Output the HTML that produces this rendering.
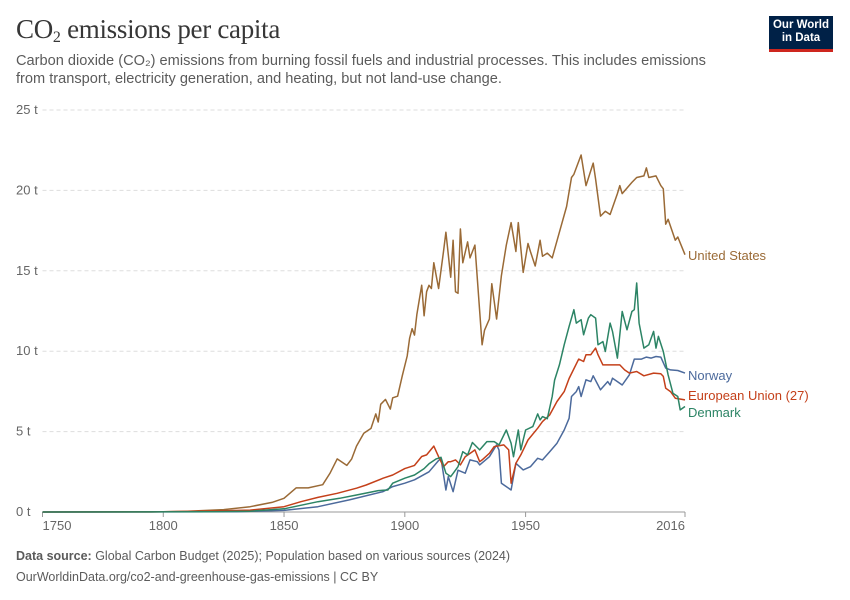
<!DOCTYPE html>
<html><head><meta charset="utf-8"><style>
body{margin:0;background:#fff;width:850px;height:600px;overflow:hidden;font-family:"Liberation Sans",sans-serif;}
#title{position:absolute;left:16px;top:14px;font-family:"Liberation Serif",serif;font-size:27px;color:#373737;letter-spacing:-0.3px}
#sub{position:absolute;left:16px;top:52px;width:740px;font-size:14.6px;line-height:18px;color:#5b5b5b;white-space:nowrap}
#logo{position:absolute;left:769px;top:16px;width:64px;background:#002147;border-bottom:3px solid #ce261e;color:#fff;font-size:11.5px;font-weight:bold;line-height:13px;text-align:center;padding-top:3px;box-sizing:content-box;height:30px}
.foot{position:absolute;left:16px;font-size:12.5px;color:#5b5b5b}
</style></head><body>
<div id="title">CO<sub style="font-size:16px;vertical-align:-4px">2</sub> emissions per capita</div>
<div id="sub">Carbon dioxide (CO₂) emissions from burning fossil fuels and industrial processes. This includes emissions<br>from transport, electricity generation, and heating, but not land-use change.</div>
<div id="logo">Our World<br>in Data</div>
<svg id="chart" width="850" height="600" style="position:absolute;left:0;top:0"></svg>
<div class="foot" style="top:549px"><b>Data source:</b> Global Carbon Budget (2025); Population based on various sources (2024)</div>
<div class="foot" style="top:570px">OurWorldinData.org/co2-and-greenhouse-gas-emissions | CC BY</div>
<script>
const yTicks=[0,5,10,15,20,25];
const xTicks=[1750,1800,1850,1900,1950,2016];
const seriesNames=["United States","Norway","European Union (27)","Denmark"];
const usYears=[1750,1795,1810,1825,1836,1845,1850,1855,1860,1866,1869,1872,1876,1878,1880,1883,1886,1888,1889,1890,1892,1894,1895,1897,1899,1901,1902,1903,1904,1905,1907,1908,1909,1910,1911,1912,1914,1916,1917,1919,1920,1921,1922,1923,1924,1926,1927,1929,1932,1933,1935,1936,1938,1940,1942,1944,1946,1947,1949,1951,1952,1954,1956,1957,1959,1961,1964,1967,1969,1970,1973,1975,1978,1979,1981,1983,1985,1988,1989,1990,1994,1996,1999,2000,2001,2004,2006,2007,2008,2009,2012,2013,2016];
const usVals=[0,0,0.05,0.15,0.33,0.6,0.85,1.5,1.5,1.7,2.4,3.3,2.9,3.3,4.1,4.9,5.2,6.1,5.6,6.7,7.0,6.4,7.1,7.2,8.5,9.7,10.8,11.4,11.0,12.3,14.1,12.2,13.7,14.1,13.9,15.5,13.9,16.2,17.4,14.6,16.9,13.7,13.6,17.6,15.5,16.8,15.8,16.6,10.4,11.3,12.0,14.2,12.0,14.7,16.6,18.0,16.2,18.0,14.9,16.7,16.2,15.3,16.9,15.9,16.1,15.8,17.4,19.0,20.8,21.0,22.2,20.3,21.7,20.7,18.4,18.7,18.5,19.8,20.3,19.8,20.5,20.8,20.9,21.4,20.8,20.9,20.3,20.1,17.9,18.2,16.9,17.1,16.0];
const euYears=[1750,1800,1820,1836,1850,1857,1864,1872,1880,1884,1891,1895,1900,1904,1907,1909,1912,1914,1916,1918,1919,1921,1923,1925,1928,1929,1931,1932,1935,1937,1941,1943,1944,1946,1948,1951,1955,1957,1960,1963,1966,1968,1972,1974,1975,1977,1979,1980,1982,1985,1989,1991,1993,1996,1999,2003,2006,2007,2008,2010,2012,2016];
const euVals=[0,0.02,0.06,0.12,0.33,0.64,0.91,1.16,1.48,1.68,2.1,2.3,2.7,2.9,3.45,3.55,4.1,3.44,2.82,3.13,3.13,3.24,2.93,3.44,3.75,3.86,3.13,3.24,3.65,4.07,4.17,3.86,1.79,3.03,3.55,4.48,5.21,5.62,6.04,6.87,7.49,8.3,9.51,9.36,9.78,9.78,10.19,9.78,9.15,9.15,9.15,8.84,8.64,8.74,8.47,8.64,8.6,8.43,7.7,7.49,7.08,6.97];
const noYears=[1750,1830,1850,1864,1877,1891,1895,1900,1904,1910,1914,1915,1917,1918,1920,1922,1925,1927,1930,1931,1935,1938,1939,1940,1942,1944,1946,1949,1952,1955,1957,1960,1963,1966,1968,1969,1971,1972,1973,1975,1977,1978,1980,1981,1984,1985,1986,1988,1990,1993,1995,1998,2000,2002,2004,2006,2008,2010,2013,2016];
const noVals=[0,0.02,0.1,0.33,0.75,1.27,1.58,1.79,2.0,2.5,3.2,3.34,1.37,2.2,1.26,2.6,2.41,3.24,3.13,2.93,3.44,4.17,3.86,1.79,1.58,1.37,3.03,2.62,2.82,3.34,3.24,3.75,4.28,5.1,5.83,7.18,7.49,7.8,7.18,8.22,8.11,8.47,7.9,7.6,8.11,7.9,8.32,8.11,7.9,8.53,9.51,9.51,9.63,9.57,9.67,9.63,8.95,8.84,8.8,8.64];
const dkYears=[1750,1820,1836,1850,1864,1873,1880,1889,1893,1895,1900,1904,1908,1910,1913,1915,1917,1919,1920,1922,1924,1926,1928,1931,1934,1937,1939,1942,1944,1945,1947,1948,1950,1953,1955,1956,1957,1959,1961,1962,1964,1966,1968,1970,1971,1973,1974,1976,1977,1979,1980,1982,1983,1985,1986,1988,1990,1992,1994,1995,1996,1997,1999,2001,2003,2004,2005,2007,2009,2011,2013,2014,2016];
const dkVals=[0,0.02,0.05,0.2,0.64,0.85,1.06,1.33,1.37,1.79,2.1,2.3,2.7,3.0,3.3,3.4,2.41,2.2,2.4,2.82,3.75,3.55,4.32,3.86,4.38,4.38,4.17,5.1,4.28,3.44,5.1,3.86,5.1,5.31,6.1,5.73,5.93,5.8,7.18,8.2,9.15,10.4,11.54,12.58,11.75,11.96,11.02,12.06,12.27,12.06,10.4,10.6,9.98,11.75,11.23,9.57,12.47,11.33,12.47,12.58,14.24,11.75,10.19,10.4,11.23,10.19,10.92,9.98,8.53,7.39,7.18,6.35,6.56];
const svg=document.getElementById('chart');
const NS='http://www.w3.org/2000/svg';
const X0=42.5,X1=685,Y0=512,Y1=110;
function x(yr){return X0+(yr-1750)*(X1-X0)/(2016-1750);}
function y(v){return Y0-v*(Y0-Y1)/25;}
function mk(t,a){const e=document.createElementNS(NS,t);for(const k in a)e.setAttribute(k,a[k]);svg.appendChild(e);return e;}
yTicks.forEach(t=>{
  if(t>0){const g=mk('line',{x1:X0,x2:X1,y1:y(t),y2:y(t),stroke:'#ddd','stroke-dasharray':'4,3'});
  
  }
  const l=mk('text',{x:16,y:y(t)+4,'font-size':13,fill:'#666','font-family':'Liberation Sans, sans-serif'});
  l.textContent=t+' t';
  
  
});
const ax=mk('line',{x1:X0,x2:X1,y1:Y0,y2:Y0,stroke:'#999'});


xTicks.forEach((t,i)=>{
  const tk=mk('line',{x1:x(t),x2:x(t),y1:Y0,y2:Y0+5,stroke:'#999'});
  
  
  const l=mk('text',{x:x(t),y:Y0+18,'font-size':13,fill:'#666','text-anchor':i==0?'start':(i==xTicks.length-1?'end':'middle'),'font-family':'Liberation Sans, sans-serif'});
  l.textContent=t;
  
  
});
const series=[[usYears,usVals,'#9a6a36'],[noYears,noVals,'#4c6a9c'],[euYears,euVals,'#c4401a'],[dkYears,dkVals,'#2c8465']];
const labelY=[256,376,396,413];
series.forEach((s,i)=>{
  const d=s[0].map((yr,j)=>(j?'L':'M')+x(yr).toFixed(1)+','+y(s[1][j]).toFixed(1)).join('');
  const p=mk('path',{d:d,fill:'none',stroke:s[2],'stroke-width':1.5,'stroke-linejoin':'round'});
  
  
  const l=mk('text',{x:688,y:labelY[i]+4,'font-size':13,fill:s[2],'font-family':'Liberation Sans, sans-serif'});
  l.textContent=seriesNames[i];
  
  
});
</script>
</body></html>
